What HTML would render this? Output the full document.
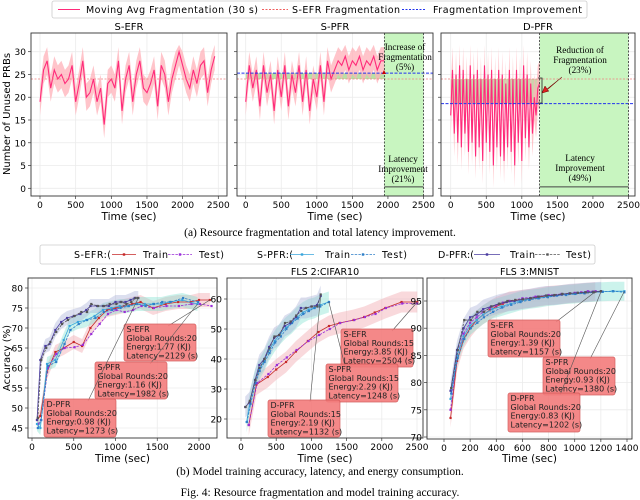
<!DOCTYPE html>
<html><head><meta charset="utf-8"><style>
html,body{margin:0;padding:0;background:#fff;}
svg{display:block;font-family:"DejaVu Sans","Liberation Sans",sans-serif;}
.serif{font-family:"Liberation Serif",serif;}
</style></head><body>
<svg id="fig" width="640" height="500" viewBox="0 0 640 500" xmlns="http://www.w3.org/2000/svg">
<rect x="0" y="0" width="640" height="500" fill="#fff"/>
<g id="topRow"></g><g id="botRow"></g>
<text class="serif" x="320" y="236" font-size="11.5" text-anchor="middle">(a) Resource fragmentation and total latency improvement.</text>
<text class="serif" x="320" y="475" font-size="11.5" text-anchor="middle">(b) Model training accuracy, latency, and energy consumption.</text>
<text class="serif" x="320" y="496" font-size="11.5" text-anchor="middle">Fig. 4: Resource fragmentation and model training accuracy.</text>
</svg>
<script>
// ---------- data: top row ----------
const sefrFrag=[19,26,28,22,26,24,25,23,24,27,19,23,28,20,21,24,19,22,14,23,24,22,28,17,24,27,19,25,28,22,21,23,26,18,27,25,19,24,27,30,27,24,22,26,23,27,28,21,26,29];
const spfrFrag=[19,27,22,26,18,27,21,25,17,26,20,27,18,25,21,27,19,26,17,24,20,27,19,28,24,26,28,27,29,26,28,27,29,26,28,27,29,26,28,28];
const dpfrFrag=[16,26,12,25,10,27,9,26,12,24,8,27,10,25,7,26,9,24,6,27,10,25,8,26,5,24,9,26,7,25,6,23,9,26,8,24,5,26,10,24,6,27,11,25,9,23,12,20,16,22,23];
const sefrBaseline=24;
const spfrLevel=25.3;
const dpfrLevel=18.6;
const spfrEnd=1950;
const dpfrEnd=1250;
const topXTicks=[0,500,1000,1500,2000,2500];
const topYTicks=[0,5,10,15,20,25,30];
// ---------- data: bottom row ----------
const fls1SefrTrainX=[60,100,180,280,380,500,600,700,800,900,1000,1100,1200,1300,1450,1600,1750,1900,2000,2130];
const fls1SefrTrainY=[47,48,59,64,65,66.5,65.5,70,72.5,74.5,75,75.5,76,76.5,75,76,76.5,76.5,77,77];
const fls1SefrTestX=[70,110,190,290,390,510,610,710,810,910,1010,1110,1210,1310,1460,1610,1760,1910,2010,2150];
const fls1SefrTestY=[46,47,60,63.5,65,65.2,65.8,68.5,71,73.5,74.5,74,74.5,75.5,75,75.5,75.5,76,76,75.5];
const fls1SpfrTrainX=[60,100,180,280,380,450,550,650,750,850,950,1050,1150,1250,1350,1450,1550,1650,1800,1982];
const fls1SpfrTrainY=[46,45,61,62,67,70.5,71.5,72,73,74.5,75,75.5,75.5,76,76,76,76,76.5,77,76];
const fls1SpfrTestX=[70,110,190,290,390,460,560,660,760,860,960,1060,1160,1260,1360,1460,1560,1660,1810,1990];
const fls1SpfrTestY=[45,47,60.5,61.5,66,69.5,71,72,72.5,74,74.5,75,75.5,76,75.5,76,76.5,76.5,77.5,76.5];
const fls1DpfrTrainX=[60,100,160,210,280,350,420,500,580,650,700,780,850,920,1000,1060,1120,1180,1230,1273];
const fls1DpfrTrainY=[47,62,65.5,66,69.5,71.5,72.5,73,73.5,74.5,75.5,75.5,75.5,75.5,76.5,76.5,76.5,77,77.5,77.5];
const fls1DpfrTestX=[70,110,170,220,290,360,430,510,590,660,710,790,860,930,1010,1070,1130,1190,1240,1270];
const fls1DpfrTestY=[47.5,62,65,66.5,69,71,72,73,74,74,76,75.5,75.5,76,76,76.5,76,76.5,77.5,77.5];
const fls2SefrTrainX=[110,220,380,500,640,780,950,1100,1250,1400,1600,1750,1900,2050,2280,2504];
const fls2SefrTrainY=[18,31.5,34,36.5,39,42.5,46,49,51,52,53,54,55.5,57,59,59];
const fls2SefrTestX=[110,230,390,510,650,790,960,1110,1260,1410,1610,1760,1910,2060,2290,2500];
const fls2SefrTestY=[18,32,35,38,40.5,43,46,48,50,52,53,54,55,57,58.5,58.5];
const fls2SpfrTrainX=[80,130,200,260,330,400,480,560,640,720,800,880,960,1040,1120,1248];
const fls2SpfrTrainY=[19,26,33,36.5,39.5,43,46,48.5,50.5,52,54,55.5,56.5,57,58,59];
const fls2SpfrTestX=[85,135,205,265,335,405,485,565,645,725,805,885,965,1045,1125,1250];
const fls2SpfrTestY=[19,25,32,36,39,42,45.5,47.5,50,52,53.5,55,56,57,57.5,59];
const fls2DpfrTrainX=[60,120,200,260,330,400,470,540,620,700,780,850,920,1000,1080,1132];
const fls2DpfrTrainY=[24,25.5,33,38,40,44,47,48,51,52,54,57,57,57.5,58,61];
const fls2DpfrTestX=[65,125,205,265,335,405,475,545,625,705,785,855,925,1005,1085,1132];
const fls2DpfrTestY=[24,26,33,37,40,43.5,47.5,48,52,52.5,54.5,56,57,57.5,57.5,61.5];
const fls3SefrTrainX=[50,100,150,200,250,300,350,400,450,500,600,700,800,900,1000,1050,1100,1157];
const fls3SefrTrainY=[73.5,84,88,90,91.5,92.5,93.3,94,94.5,95,95.3,95.6,96,96.2,96.4,96.5,96.6,96.7];
const fls3SefrTestX=[50,100,150,200,250,300,350,400,450,500,600,700,800,900,1000,1050,1100,1160];
const fls3SefrTestY=[75,85,89,91,92,93,93.7,94.2,94.7,95,95.5,95.8,96.1,96.3,96.5,96.6,96.8,96.8];
const fls3SpfrTrainX=[50,100,150,200,250,300,370,440,510,580,650,720,790,860,930,1000,1070,1140,1210,1290,1380];
const fls3SpfrTrainY=[77,85,88.5,90.5,91.5,92.5,93.5,94,94.5,95,95.3,95.5,95.8,96,96.2,96.3,96.5,96.6,96.7,96.8,96.8];
const fls3SpfrTestX=[55,105,155,205,255,305,375,445,515,585,655,725,795,865,935,1005,1075,1145,1215,1295,1380];
const fls3SpfrTestY=[78,84.5,88,90,91,92,93,93.8,94.3,94.8,95.2,95.5,95.7,96,96.1,96.3,96.4,96.6,96.7,96.8,96.6];
const fls3DpfrTrainX=[50,100,150,200,250,300,360,420,480,540,600,660,720,780,840,900,960,1020,1080,1140,1202];
const fls3DpfrTrainY=[78.5,86,90,92,92.5,93.5,94,94.5,94.8,95,95.3,95.5,95.8,96,96,96.2,96.4,96.5,96.6,96.7,96.8];
const fls3DpfrTestX=[55,105,155,205,255,305,365,425,485,545,605,665,725,785,845,905,965,1025,1085,1145,1200];
const fls3DpfrTestY=[79,86,91.5,91.5,93,93,94,94.5,95,95.2,95.3,95.5,95.8,96,96.1,96.3,96.4,96.5,96.6,96.6,96.8];
const fls1XTicks=[0,500,1000,1500,2000];
const fls1YTicks=[45,50,55,60,65,70,75,80];
const fls2XTicks=[0,500,1000,1500,2000,2500];
const fls2YTicks=[20,30,40,50,60];
const fls3XTicks=[0,200,400,600,800,1000,1200,1400];
const fls3YTicks=[70,75,80,85,90,95];

const NS='http://www.w3.org/2000/svg';
function el(parent,tag,attrs,text){const e=document.createElementNS(NS,tag);for(const k in attrs)e.setAttribute(k,attrs[k]);if(text!==undefined)e.textContent=text;parent.appendChild(e);return e;}
function lin(d0,d1,r0,r1){return v=>r0+(v-d0)*(r1-r0)/(d1-d0);}
const topG=document.getElementById('topRow'),botG=document.getElementById('botRow');

function axes(g,name,box,xs,ys,xt,yt,showY){
  const a=el(g,'g',{});
  
  
  xt.forEach(t=>{el(a,'line',{x1:xs(t),x2:xs(t),y1:box.y0,y2:box.y1,stroke:'#ebebeb','stroke-width':0.8});});
  yt.forEach(t=>{el(a,'line',{x1:box.x0,x2:box.x1,y1:ys(t),y2:ys(t),stroke:'#ebebeb','stroke-width':0.8});});
  xt.forEach(t=>{el(a,'line',{x1:xs(t),x2:xs(t),y1:box.y1,y2:box.y1+3,stroke:'#333','stroke-width':0.7});
    const tx=el(a,'text',{x:xs(t),y:box.y1+12,'font-size':9,'text-anchor':'middle'},t);
    
    });
  yt.forEach(t=>{el(a,'line',{x1:box.x0-3,x2:box.x0,y1:ys(t),y2:ys(t),stroke:'#333','stroke-width':0.7});
    if(showY){const ty=el(a,'text',{x:box.x0-5,y:ys(t)+3.5,'font-size':9,'text-anchor':'end'},t);
    
    }});
  return a;
}
function frame(g,box){el(g,'rect',{x:box.x0,y:box.y0,width:box.x1-box.x0,height:box.y1-box.y0,fill:'none',stroke:'#333','stroke-width':0.9});}

// ---------- top row ----------
const topY=lin(0,30,188.3,51.7);
const tBoxes=[{x0:31,x1:227,y0:33,y1:196},{x0:237,x1:433,y0:33,y1:196},{x0:441,x1:635,y0:33,y1:196}];
const tX=[lin(0,2500,40,218.3),lin(0,2500,245.7,423.5),lin(0,2500,450.7,628.5)];
const tSeries=[sefrFrag,spfrFrag,dpfrFrag];
const tStep=[50,50,25];
const tSpread=[3,3,5];
const tTitles=['S-EFR','S-PFR','D-PFR'];
const tNames=['s-efr','s-pfr','d-pfr'];
for(let p=0;p<3;p++){
  const box=tBoxes[p],xs=tX[p];
  const g=el(topG,'g',{});
  
  
  axes(g,'axes-'+tNames[p],box,xs,topY,topXTicks,topYTicks,p===0);
  if(p===1){
    const r=el(g,'rect',{x:xs(spfrEnd),y:box.y0,width:xs(2500)-xs(spfrEnd),height:box.y1-box.y0,fill:'#c8f5c0'});
    
    
    el(g,'rect',{x:xs(0),y:topY(spfrLevel),width:xs(spfrEnd)-xs(0),height:topY(sefrBaseline)-topY(spfrLevel),fill:'#a8d890',opacity:0.8});
  }
  if(p===2){
    const r=el(g,'rect',{x:xs(dpfrEnd),y:box.y0,width:xs(2500)-xs(dpfrEnd),height:box.y1-box.y0,fill:'#c8f5c0'});
    
    
    el(g,'rect',{x:xs(0),y:topY(sefrBaseline),width:xs(dpfrEnd)-xs(0),height:topY(dpfrLevel)-topY(sefrBaseline),fill:'#b8c890',opacity:0.75});
  }
  const data=tSeries[p],st=tStep[p],sp=tSpread[p];
  let up='',dn='',ln='';
  data.forEach((v,i)=>{const x=xs(i*st);up+=x+','+topY(Math.min(31.5,v+sp))+' ';ln+=(i?'L':'M')+x+','+topY(v);});
  for(let i=data.length-1;i>=0;i--){dn+=xs(i*st)+','+topY(Math.max(0,data[i]-sp))+' ';}
  const band=el(g,'polygon',{points:up+dn,fill:'#ffb0b8',opacity:0.75});
  
  
  const line=el(g,'path',{d:ln,fill:'none',stroke:'#ff2a7a','stroke-width':1.1});
  
  
  const bl=el(g,'line',{x1:box.x0,x2:box.x1,y1:topY(sefrBaseline),y2:topY(sefrBaseline),stroke:'#f08080','stroke-width':0.8,'stroke-dasharray':'2,1.5'});
  
  
  if(p>0){
    const lv=p===1?spfrLevel:dpfrLevel,end=p===1?spfrEnd:dpfrEnd;
    const il=el(g,'line',{x1:box.x0,x2:box.x1,y1:topY(lv),y2:topY(lv),stroke:'#2233ee','stroke-width':1,'stroke-dasharray':'3,1.5'});
    
    
    el(g,'line',{x1:xs(end),x2:xs(end),y1:box.y0,y2:box.y1,stroke:'#333','stroke-width':0.8,'stroke-dasharray':'2,1.5'});
    el(g,'line',{x1:xs(2500),x2:xs(2500),y1:box.y0,y2:box.y1,stroke:'#333','stroke-width':0.8,'stroke-dasharray':'2,1.5'});
    el(g,'line',{x1:xs(end),x2:xs(2500),y1:topY(0.3),y2:topY(0.3),stroke:'#444','stroke-width':1});
  }
  frame(g,box);
  const tt=el(g,'text',{x:(box.x0+box.x1)/2,y:30,'font-size':10,'text-anchor':'middle'},tTitles[p]);
  
  
  const xl=el(g,'text',{x:(box.x0+box.x1)/2,y:220,'font-size':10.5,'text-anchor':'middle'},'Time (sec)');
  
  
}
{
  const yl=el(topG,'text',{x:0,y:0,'font-size':10,'text-anchor':'middle',transform:'translate(10,114) rotate(-90)'},'Number of Unused PRBs');
  
  
  function multi(x,y,lines,name){const t=el(topG,'text',{'font-size':9.2,'text-anchor':'middle','font-family':'Liberation Serif, serif'});
    
    
    lines.forEach((s,i)=>el(t,'tspan',{x:x,y:y+i*10},s));}
  multi(405,50,['Increase of','Fragmentation','(5%)'],'increase-annotation');
  multi(403,162,['Latency','Improvement','(21%)'],'latency-annotation-s-pfr');
  multi(580,53,['Reduction of','Fragmentation','(23%)'],'reduction-annotation');
  multi(580,161,['Latency','Improvement','(49%)'],'latency-annotation-d-pfr');
  el(topG,'path',{d:'M538,78 h4 v25 h-4',fill:'none',stroke:'#222','stroke-width':0.8});
  const ar=el(topG,'path',{d:'M562,77 L547,89 L545,86 L542,93 L549,91 L547,90 Z',fill:'#e02020',stroke:'#600','stroke-width':0.5});
  
  
  el(topG,'polygon',{points:'382,74 384,70 386,74',fill:'#c00'});
  const lg=el(topG,'g',{});
  
  
  el(lg,'rect',{x:52,y:1,width:535,height:17,rx:2,fill:'#fff',stroke:'#ccc','stroke-width':0.8});
  el(lg,'line',{x1:58,x2:80,y1:9.5,y2:9.5,stroke:'#ff2a7a','stroke-width':1});
  el(lg,'text',{x:86,y:13,'font-size':9.5,textLength:172},'Moving Avg Fragmentation (30 s)');
  el(lg,'line',{x1:262,x2:288,y1:9.5,y2:9.5,stroke:'#f06060','stroke-width':0.9,'stroke-dasharray':'2,1.5'});
  el(lg,'text',{x:292,y:13,'font-size':9.5,textLength:108},'S-EFR Fragmentation');
  el(lg,'line',{x1:402,x2:426,y1:9.5,y2:9.5,stroke:'#2233ee','stroke-width':0.9,'stroke-dasharray':'2,1.5'});
  el(lg,'text',{x:433,y:13,'font-size':9.5,textLength:149},'Fragmentation Improvement');
}

// ---------- bottom row ----------
const bPanels=[
 {name:'fls1',title:'FLS 1:FMNIST',box:{x0:28,x1:217,y0:278,y1:438},xs:lin(0,2000,32,199),ys:lin(45,80,428,288),xt:fls1XTicks,yt:fls1YTicks,
  series:[[fls1SefrTrainX,fls1SefrTrainY],[fls1SefrTestX,fls1SefrTestY],[fls1SpfrTrainX,fls1SpfrTrainY],[fls1SpfrTestX,fls1SpfrTestY],[fls1DpfrTrainX,fls1DpfrTrainY],[fls1DpfrTestX,fls1DpfrTestY]],
  boxes:[{x:124,y:324,w:72,h:37,t:['S-EFR','Global Rounds:20','Energy:1.77 (KJ)','Latency=2129 (s)'],to:[2130,77],from:[168,326]},
         {x:95,y:362,w:72,h:37,t:['S-PFR','Global Rounds:20','Energy:1.16 (KJ)','Latency=1982 (s)'],to:[1982,76],from:[150,364]},
         {x:44,y:399,w:72,h:38,t:['D-PFR','Global Rounds:20','Energy:0.98 (KJ)','Latency=1273 (s)'],to:[1273,77.5],from:[88,401]}]},
 {name:'fls2',title:'FLS 2:CIFAR10',box:{x0:227,x1:423,y0:278,y1:438},xs:lin(0,2500,241,417),ys:lin(20,60,419,299),xt:fls2XTicks,yt:fls2YTicks,
  series:[[fls2SefrTrainX,fls2SefrTrainY],[fls2SefrTestX,fls2SefrTestY],[fls2SpfrTrainX,fls2SpfrTrainY],[fls2SpfrTestX,fls2SpfrTestY],[fls2DpfrTrainX,fls2DpfrTrainY],[fls2DpfrTestX,fls2DpfrTestY]],
  boxes:[{x:341,y:329,w:72,h:38,t:['S-EFR','Global Rounds:15','Energy:3.85 (KJ)','Latency=2504 (s)'],to:[2504,59],from:[392,331]},
         {x:326,y:364,w:72,h:38,t:['S-PFR','Global Rounds:15','Energy:2.29 (KJ)','Latency=1248 (s)'],to:[1248,59],from:[345,366]},
         {x:268,y:400,w:72,h:37,t:['D-PFR','Global Rounds:15','Energy:2.19 (KJ)','Latency=1132 (s)'],to:[1132,61],from:[310,402]}]},
 {name:'fls3',title:'FLS 3:MNIST',box:{x0:427,x1:632,y0:278,y1:439},xs:lin(0,1400,444,627),ys:lin(70,95,437,301),xt:fls3XTicks,yt:fls3YTicks,
  series:[[fls3SefrTrainX,fls3SefrTrainY],[fls3SefrTestX,fls3SefrTestY],[fls3SpfrTrainX,fls3SpfrTrainY],[fls3SpfrTestX,fls3SpfrTestY],[fls3DpfrTrainX,fls3DpfrTrainY],[fls3DpfrTestX,fls3DpfrTestY]],
  boxes:[{x:488,y:320,w:72,h:37,t:['S-EFR','Global Rounds:20','Energy:1.39 (KJ)','Latency=1157 (s)'],to:[1157,96.7],from:[556,322]},
         {x:543,y:357,w:72,h:38,t:['S-PFR','Global Rounds:20','Energy:0.93 (KJ)','Latency=1380 (s)'],to:[1380,96.8],from:[590,359]},
         {x:508,y:393,w:72,h:39,t:['D-PFR','Global Rounds:20','Energy:0.83 (KJ)','Latency=1202 (s)'],to:[1202,96.8],from:[560,395]}]}
];
const sColors=['#c62828','#9a2fd8','#3aa6dc','#2f7fc8','#4a3ca0','#555555'];
const sNames=['s-efr-train','s-efr-test','s-pfr-train','s-pfr-test','d-pfr-train','d-pfr-test'];
const bandColors=['#f0a0a8','#f0a0a8','#80e0d0','#80e0d0','#a8b0d8','#a8b0d8'];
bPanels.forEach(P=>{
  const g=el(botG,'g',{});
  
  
  axes(g,'axes-'+P.name,P.box,P.xs,P.ys,P.xt,P.yt,true);
  const spread=(P.ys(P.yt[0])-P.ys(P.yt[1]))*0.35;
  [0,2,4].forEach(k=>{
    const X=P.series[k][0],Y=P.series[k][1];let up='',dn='';
    X.forEach((x,i)=>{up+=P.xs(x)+','+(P.ys(Y[i])-spread)+' ';});
    for(let i=X.length-1;i>=0;i--)dn+=P.xs(X[i])+','+(P.ys(Y[i])+spread)+' ';
    const b=el(g,'polygon',{points:up+dn,fill:bandColors[k],opacity:0.4});
    
    
  });
  P.series.forEach((s,k)=>{
    const X=s[0],Y=s[1];let d='';
    X.forEach((x,i)=>{d+=(i?'L':'M')+P.xs(x)+','+P.ys(Y[i]);});
    const ln=el(g,'path',{d:d,fill:'none',stroke:sColors[k],'stroke-width':0.8,'stroke-dasharray':k%2?'2.5,1.2':'none'});
    
    
    X.forEach((x,i)=>{const m=el(g,'rect',{x:P.xs(x)-1.1,y:P.ys(Y[i])-1.1,width:2.2,height:2.2,fill:sColors[k]});
      
      });
  });
  P.boxes.forEach(B=>{
    const l=el(g,'line',{x1:B.from[0],y1:B.from[1],x2:P.xs(B.to[0]),y2:P.ys(B.to[1]),stroke:'#555','stroke-width':0.6});
    
    
    const r=el(g,'rect',{x:B.x,y:B.y,width:B.w,height:B.h,rx:2,fill:'#f37c7c',stroke:'#d05050','stroke-width':0.7,opacity:0.9});
    
    
    const t=el(g,'text',{'font-size':8,fill:'#222'});
    
    
    B.t.forEach((s,i)=>el(t,'tspan',{x:B.x+2.5,y:B.y+8+i*8.8},s));
  });
  frame(g,P.box);
  const tt=el(g,'text',{x:(P.box.x0+P.box.x1)/2,y:275,'font-size':9.5,'text-anchor':'middle'},P.title);
  
  
  const xl=el(g,'text',{x:(P.box.x0+P.box.x1)/2,y:462,'font-size':10.5,'text-anchor':'middle'},'Time (sec)');
  
  
});
{
  const yl=el(botG,'text',{x:0,y:0,'font-size':10,'text-anchor':'middle',transform:'translate(10,358) rotate(-90)'},'Accuracy (%)');
  
  
  const lg=el(botG,'g',{});
  
  
  el(lg,'rect',{x:40,y:245,width:555,height:19,rx:2,fill:'#fff',stroke:'#ccc','stroke-width':0.8});
  const items=[['S-EFR:(',74,37],['Train',143,25],['Test)',199,25],['S-PFR:(',257,36],['Train',325,25],['Test)',382,25],['D-PFR:(',438,36],['Train',510,25],['Test)',566,25]];
  items.forEach(it=>el(lg,'text',{x:it[1],y:258,'font-size':9.5,textLength:it[2]},it[0]));
  const segs=[[112,136,0],[168,192,1],[290,314,2],[351,375,3],[474,500,4],[535,560,5]];
  segs.forEach(s=>{el(lg,'line',{x1:s[0],x2:s[1],y1:254.5,y2:254.5,stroke:sColors[s[2]],'stroke-width':0.8,'stroke-dasharray':s[2]%2?'2.5,1.2':'none'});
    el(lg,'rect',{x:(s[0]+s[1])/2-1.2,y:253.3,width:2.4,height:2.4,fill:sColors[s[2]]});});
}
</script>
</body></html>
